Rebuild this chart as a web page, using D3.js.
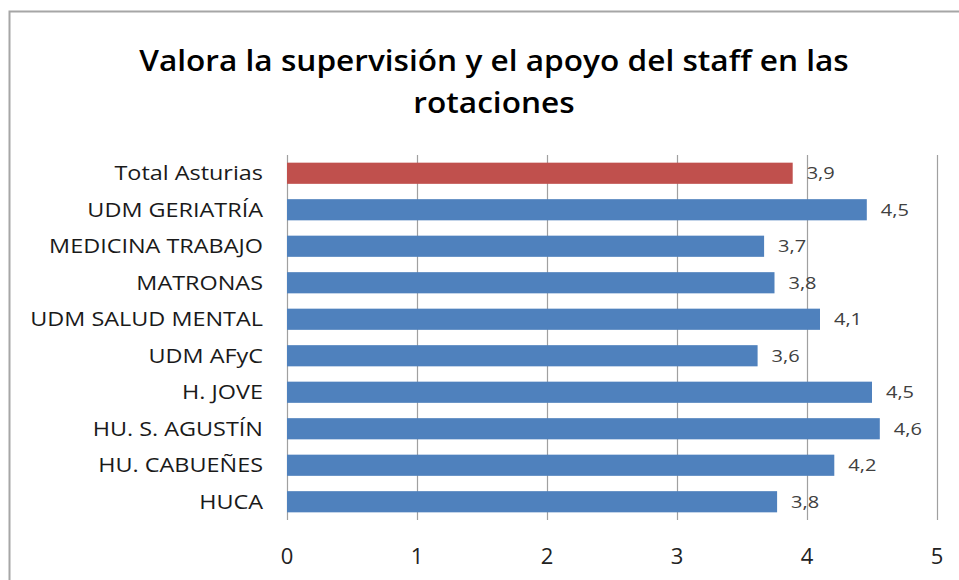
<!DOCTYPE html>
<html lang="es">
<head>
<meta charset="UTF-8">
<title>Valora la supervisión</title>
<script src="https://cdn.jsdelivr.net/npm/d3@7"></script>
<style>
    body{ margin:0; background:#fff; }
    svg{ position:absolute; left:0px; top:0px; font-family:"Open Sans", sans-serif; }
</style>
</head>
<body>
<svg id="chart" width="959" height="580"></svg>
<script>
    // data
    var categories = ["Total Asturias","UDM GERIATRÍA","MEDICINA TRABAJO","MATRONAS","UDM SALUD MENTAL","UDM AFyC","H. JOVE","HU. S. AGUSTÍN","HU. CABUEÑES","HUCA"]
    var values = [3.89, 4.46, 3.67, 3.75, 4.10, 3.62, 4.50, 4.56, 4.21, 3.77]
    var xTicks = [0,1,2,3,4,5]
    var titleLines = ["Valora  la supervisión y el apoyo del staff en las", "rotaciones"]

    var svg = d3.select("#chart")

    // the original picture is stretched sideways, so widen the text a bit
    function stretch(sel, k){
        sel.each(function(){
            var w = this.getComputedTextLength()
            d3.select(this).attr("textLength", w * k).attr("lengthAdjust", "spacingAndGlyphs")
        })
    }

    // frame of the chart area
    svg.append("path")
        .attr("d", "M9.5,580 L9.5,11.5 L959,11.5")
        .attr("stroke", "#a6a6a6")
        .attr("stroke-width", 2)
        .attr("fill", "none")

    var x = d3.scaleLinear().domain([0,5]).range([287, 937])
    var y = d3.scaleBand().domain(categories).range([155, 520]).paddingInner(0.42).paddingOuter(0.21)

    // title
    svg.selectAll(".title").data(titleLines).enter()
        .append("text")
        .attr("class", "title")
        .attr("x", 494)
        .attr("y", function(d, i){ return 71 + i * 42 })
        .attr("text-anchor", "middle")
        .attr("font-size", 29)
        .attr("font-weight", 600)
        .attr("fill", "#000")
        .text(function(d){ return d })
        .call(stretch, 1.09)

    // vertical gridlines
    svg.append("g")
        .attr("transform", "translate(0,520)")
        .call(d3.axisBottom(x).tickValues(xTicks).tickSize(-365).tickFormat(""))
        .call(function(g){
            g.select(".domain").remove()
            g.selectAll(".tick line").attr("stroke", "#a0a0a0").attr("stroke-width", 1.2)
        })

    // x tick labels
    svg.selectAll(".xlab").data(xTicks).enter()
        .append("text")
        .attr("class", "xlab")
        .attr("x", function(d){ return x(d) })
        .attr("y", 564)
        .attr("text-anchor", "middle")
        .attr("font-size", 22)
        .attr("fill", "#222")
        .text(function(d){ return d })

    // bars
    svg.selectAll(".bar").data(values).enter()
        .append("rect")
        .attr("class", "bar")
        .attr("x", x(0))
        .attr("y", function(d, i){ return y(categories[i]) })
        .attr("width", function(d){ return x(d) - x(0) })
        .attr("height", y.bandwidth())
        .attr("fill", function(d, i){ return i == 0 ? "#C0504D" : "#4F81BD" })

    // category labels
    svg.selectAll(".cat").data(categories).enter()
        .append("text")
        .attr("class", "cat")
        .attr("x", 263)
        .attr("y", function(d){ return y(d) + y.bandwidth() / 2 })
        .attr("dy", "0.36em")
        .attr("text-anchor", "end")
        .attr("font-size", 20)
        .attr("fill", "#1a1a1a")
        .text(function(d){ return d })
        .call(stretch, 1.17)

    // value labels
    var fmt = d3.format(".1f")
    svg.selectAll(".val").data(values).enter()
        .append("text")
        .attr("class", "val")
        .attr("x", function(d){ return x(d) + 14 })
        .attr("y", function(d, i){ return y(categories[i]) + y.bandwidth() / 2 })
        .attr("dy", "0.36em")
        .attr("font-size", 16)
        .attr("fill", "#404040")
        .text(function(d){ return fmt(d).replace(".", ",") })
        .call(stretch, 1.25)
</script>
</body>
</html>
